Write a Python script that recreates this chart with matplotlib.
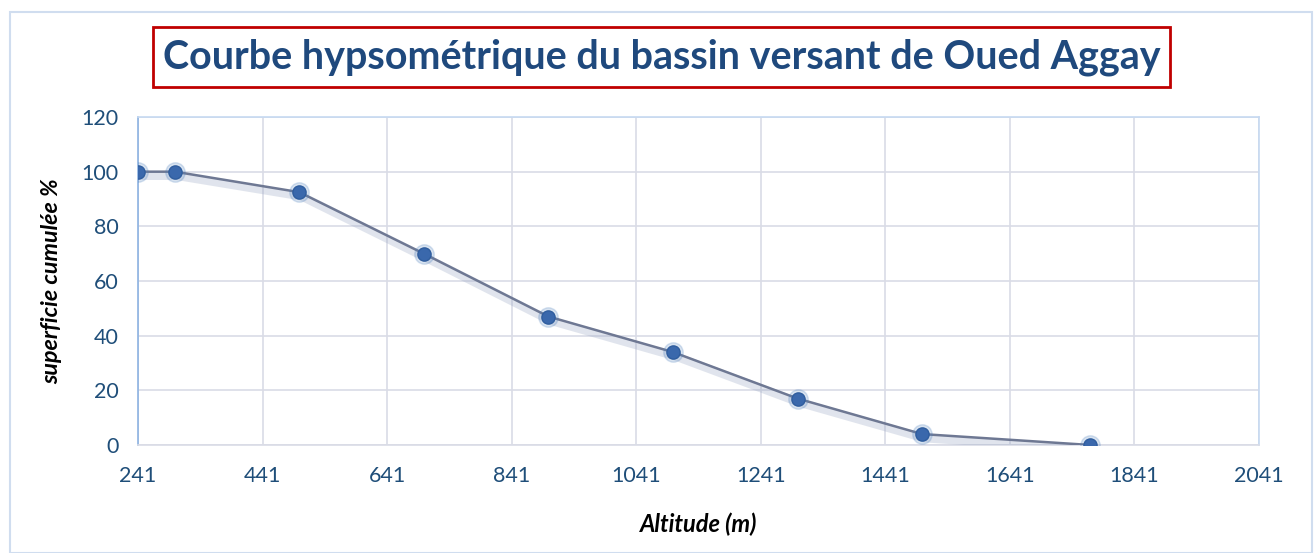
"""Courbe hypsométrique du bassin versant de Oued Aggay."""

import matplotlib

matplotlib.use("Agg")
import matplotlib.pyplot as plt
import matplotlib.patheffects as pe
from matplotlib.patches import Rectangle

# data
altitude = [241, 300, 500, 700, 900, 1100, 1300, 1500, 1770]
superficie_cumulee = [100, 100, 92.5, 70, 47, 34, 17, 4, 0]

x_ticks = [241, 441, 641, 841, 1041, 1241, 1441, 1641, 1841, 2041]
y_ticks = [0, 20, 40, 60, 80, 100, 120]

TITLE = "Courbe hypsométrique du bassin versant de Oued Aggay"
XLABEL = "Altitude (m)"
YLABEL = "superficie cumulée %"

W, H = 1316, 553
DPI = 100
TICK_COLOR = "#1F4E79"
TITLE_COLOR = "#1F497D"
GRID_COLOR = "#D9DCE6"

plt.rcParams["font.family"] = ["Lato", "DejaVu Sans"]


def fit_width(txt, fig, target_px, axis="x"):
    # shrink/grow a text until its rendered extent matches the reference
    r = fig.canvas.get_renderer()
    for _ in range(3):
        bb = txt.get_window_extent(renderer=r)
        size = bb.width if axis == "x" else bb.height
        txt.set_fontsize(txt.get_fontsize() * target_px / size)


fig = plt.figure(figsize=(W / DPI, H / DPI), dpi=DPI)

# outer chart frame
fig.patches.append(Rectangle((10 / W, 0), 1302 / W, 1 - 12 / H, transform=fig.transFigure,
                             fill=False, edgecolor="#D0DDEF", linewidth=1.5))

ax = fig.add_axes([138 / W, 1 - 445 / H, (1259 - 138) / W, (445 - 117) / H])
ax.set_xlim(x_ticks[0], x_ticks[-1])
ax.set_ylim(y_ticks[0], y_ticks[-1])
ax.set_xticks(x_ticks)
ax.set_yticks(y_ticks)
ax.tick_params(length=0, labelsize=15.5, labelcolor=TICK_COLOR)
ax.tick_params(axis="x", pad=15)
ax.tick_params(axis="y", pad=14)
ax.grid(True, color=GRID_COLOR, linewidth=1.2)
ax.set_axisbelow(True)
for side, sp in ax.spines.items():
    sp.set_color("#C6D9F1")
    sp.set_linewidth(1.2)
ax.spines["bottom"].set_color(GRID_COLOR)
ax.spines["left"].set_color("#8DB3E2")

ax.plot(altitude, superficie_cumulee, color="#6E7893", linewidth=1.8, zorder=3,
        path_effects=[pe.SimpleLineShadow(offset=(1.5, -3), shadow_color="#9AA8C4", alpha=0.3,
                                          linewidth=6),
                      pe.Normal()])
ax.plot(altitude, superficie_cumulee, linestyle="none", marker="o", markersize=14,
        color="#4F81BD", alpha=0.22, zorder=4)
ax.plot(altitude, superficie_cumulee, linestyle="none", marker="o", markersize=9.5,
        color="#3A68AC", markeredgecolor="#2F5D9E", zorder=5)

xl = ax.set_xlabel(XLABEL, fontsize=15, fontweight="bold", fontstyle="italic", color="black")
yl = ax.set_ylabel(YLABEL, fontsize=15, fontweight="bold", fontstyle="italic", color="black")
fit_width(xl, fig, 118, "x")
fit_width(yl, fig, 205, "y")
ax.xaxis.set_label_coords(0.5, -(513 - 445) / (445 - 117), transform=ax.transAxes)
ax.yaxis.set_label_coords(-(138 - 62) / (1259 - 138), 0.5)

# title inside red box
fig.patches.append(Rectangle((153 / W, 1 - 87 / H), (1170 - 153) / W, 60 / H,
                             transform=fig.transFigure, fill=False, edgecolor="#C00000",
                             linewidth=2))
title = fig.text(661.5 / W, 1 - 57 / H, TITLE, ha="center", va="center", fontsize=30,
                 fontweight="bold", color=TITLE_COLOR)
fit_width(title, fig, 1000, "x")

fig.savefig("out.png", dpi=DPI)
